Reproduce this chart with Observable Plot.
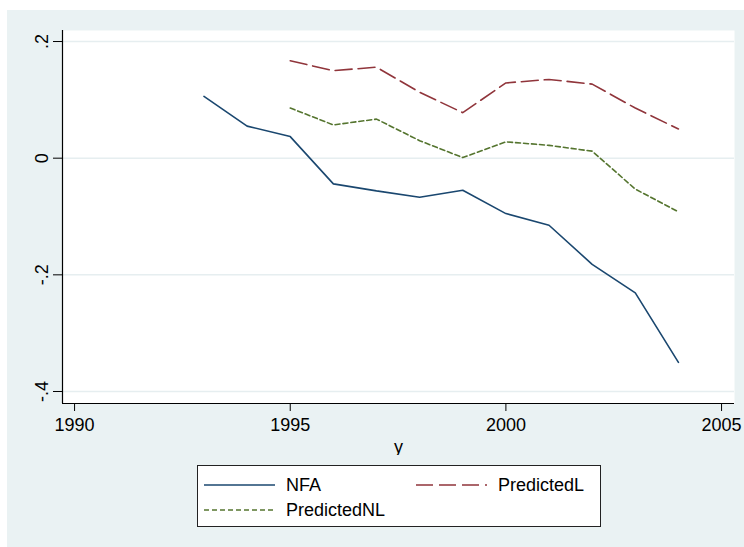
<!DOCTYPE html>
<html>
<head>
<meta charset="utf-8">
<script src="https://cdn.jsdelivr.net/npm/d3@7"></script>
<script src="https://cdn.jsdelivr.net/npm/@observablehq/plot@0.6"></script>
<style>
  body { margin: 0; background: #fff; font-family: "Liberation Sans", Arial, sans-serif; }
  #wrap { position: relative; width: 744px; height: 547px; overflow: hidden; }
  #bg { position: absolute; left: 7px; top: 10px; right: 0; bottom: 0; background: #eaf2f3; }
  #chart { position: absolute; left: 0; top: 0; }
  #legend { position: absolute; left: 197px; top: 465px; width: 402px; height: 60px;
            background: #fff; border: 1px solid #222; font-size: 18px; color: #000; }
  .item { position: absolute; display: flex; align-items: center; height: 24px; }
  .item svg { margin-right: 11px; }
</style>
</head>
<body>
<div id="wrap">
  <div id="bg"></div>
  <div id="chart"></div>
  <div id="legend"></div>
</div>
<script>
// series
const nfaYears = [1993, 1994, 1995, 1996, 1997, 1998, 1999, 2000, 2001, 2002, 2003, 2004];
const nfa = [0.106, 0.055, 0.037, -0.044, -0.056, -0.067, -0.055, -0.095, -0.115, -0.182, -0.231, -0.350];

const predYears = [1995, 1996, 1997, 1998, 1999, 2000, 2001, 2002, 2003, 2004];
const predictedL = [0.167, 0.150, 0.156, 0.113, 0.078, 0.129, 0.135, 0.127, 0.086, 0.050];
const predictedNL = [0.086, 0.057, 0.067, 0.030, 0.001, 0.028, 0.022, 0.012, -0.053, -0.092];

const xTicks = [1990, 1995, 2000, 2005];
const yTicks = [-0.4, -0.2, 0, 0.2];

const series = [
  {name: "NFA", years: nfaYears, values: nfa, color: "#1a476f", dash: null},
  {name: "PredictedL", years: predYears, values: predictedL, color: "#90353b", dash: "17,6"},
  {name: "PredictedNL", years: predYears, values: predictedNL, color: "#55752f", dash: "5,3"}
];

const xDomain = [1989.72, 2005.3];
const yDomain = [-0.4206, 0.2189];

const yFmt = d => d === 0 ? "0" : String(d).replace("0.", ".");

let chart = Plot.plot({
  width: 744,
  height: 455,
  marginLeft: 62,
  marginRight: 10,
  marginTop: 30,
  marginBottom: 52,
  style: {background: "transparent", fontFamily: "Liberation Sans, Arial, sans-serif", fontSize: "18px", color: "#000"},
  x: {domain: xDomain},
  y: {domain: yDomain},
  marks: [
    Plot.frame({fill: "white", stroke: null}),
    Plot.gridY(yTicks, {stroke: "#e6eef0", strokeOpacity: 1, strokeWidth: 1.5}),
    Plot.ruleX([xDomain[0]], {stroke: "#000", strokeWidth: 1.2}),
    Plot.ruleY([yDomain[0]], {stroke: "#000", strokeWidth: 1.2}),
    Plot.axisX(xTicks, {
      tickSize: 8, tickPadding: 7, tickFormat: d => String(d),
      label: "y", labelAnchor: "center", labelArrow: "none", labelOffset: 49
    }),
    Plot.axisY(yTicks, {
      tickSize: 9, tickPadding: 6, tickRotate: -90, tickFormat: yFmt, label: null
    }),
    ...series.map(s => Plot.line(s.years.map((yr, i) => ({year: yr, value: s.values[i]})), {
      x: "year", y: "value", stroke: s.color, strokeWidth: 1.6,
      strokeDasharray: s.dash, strokeLinejoin: "miter"
    }))
  ]
});

d3.select("#chart").append(() => chart);

// legend below the plot, two columns
const legend = d3.select("#legend");
const spots = [[6, 10], [218, 10], [6, 35]];
series.forEach((s, i) => {
  const item = legend.append("div").attr("class", "item")
    .style("left", spots[i][0] + "px").style("top", (spots[i][1] - 3) + "px");
  const sv = item.append("svg").attr("width", 71).attr("height", 6);
  sv.append("line").attr("x1", 0).attr("x2", 71).attr("y1", 3).attr("y2", 3)
    .attr("stroke", s.color).attr("stroke-width", 1.6)
    .attr("stroke-dasharray", s.dash);
  item.append("span").text(s.name);
});
</script>
</body>
</html>
